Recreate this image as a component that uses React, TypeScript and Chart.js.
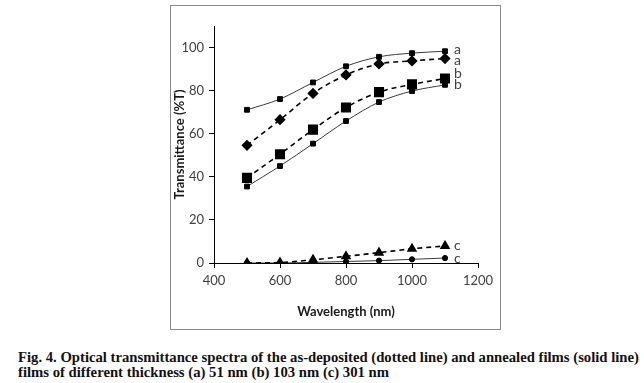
import React, { useEffect, useRef } from "react";
import { Chart, registerables } from "chart.js";

Chart.register(...registerables);

const wavelengths = [500, 600, 700, 800, 900, 1000, 1100];
const annealedA = [71.1, 76.1, 83.8, 91.3, 95.7, 97.4, 98.3];
const depositedA = [54.6, 66.5, 78.7, 87.3, 92.4, 93.8, 94.9];
const depositedB = [39.5, 50.5, 61.9, 72.2, 79.3, 82.9, 85.6];
const annealedB = [35.5, 45.0, 55.4, 65.9, 74.7, 79.8, 82.7];
const depositedC = [0.0, 0.2, 1.5, 3.1, 4.8, 6.6, 7.9];
const annealedC = [0.0, 0.0, 0.3, 0.7, 1.1, 1.7, 2.3];
const curveLabels = ["a", "a", "b", "b", "c", "c"];
const xTicks = [400, 600, 800, 1000, 1200];
const yTicks = [0, 20, 40, 60, 80, 100];

const FONT = "Lato, 'Open Sans', sans-serif";

const endLabels = {
  id: "endLabels",
  afterDatasetsDraw(chart: any) {
    const ctx = chart.ctx;
    ctx.save();
    ctx.font = `14px ${FONT}`;
    ctx.fillStyle = "#404040";
    ctx.textAlign = "left";
    ctx.textBaseline = "middle";
    chart.data.datasets.forEach((ds: any, i: number) => {
      const meta = chart.getDatasetMeta(i);
      const pt = meta.data[meta.data.length - 1];
      if (!pt) return;
      ctx.fillText(ds.endLabel, pt.x + 9, pt.y + (ds.labelDy || 0));
    });
    ctx.restore();
  },
};

const frame = {
  id: "frame",
  afterDraw(chart: any) {
    const ctx = chart.ctx;
    ctx.save();
    ctx.strokeStyle = "#8a8a8a";
    ctx.lineWidth = 1;
    ctx.strokeRect(0.5, 0.5, chart.width - 1, chart.height - 1);
    ctx.restore();
  },
};

export default function App() {
  const ref = useRef<HTMLCanvasElement | null>(null);

  useEffect(() => {
    if (!ref.current) return;
    const toPts = (ys: number[]) => wavelengths.map((x, i) => ({ x, y: ys[i] }));
    const solid = {
      borderColor: "#3a3a3a",
      borderWidth: 1,
      backgroundColor: "#000",
      pointBorderColor: "#000",
      tension: 0.35,
      cubicInterpolationMode: "monotone" as const,
    };
    const dashed = {
      borderColor: "#000",
      borderWidth: 1.6,
      borderDash: [5, 4],
      backgroundColor: "#000",
      pointBorderColor: "#000",
      tension: 0.35,
      cubicInterpolationMode: "monotone" as const,
    };
    const chart = new Chart(ref.current, {
      type: "line",
      data: {
        datasets: [
          { ...solid, label: "a annealed", data: toPts(annealedA), pointStyle: "rect", pointRadius: 3.4, endLabel: curveLabels[0], labelDy: -2 } as any,
          { ...dashed, label: "a as-deposited", data: toPts(depositedA), pointStyle: "rectRot", pointRadius: 4.5, endLabel: curveLabels[1], labelDy: 2 } as any,
          { ...dashed, label: "b as-deposited", data: toPts(depositedB), pointStyle: "rect", pointRadius: 6, endLabel: curveLabels[2], labelDy: -5 } as any,
          { ...solid, label: "b annealed", data: toPts(annealedB), pointStyle: "rect", pointRadius: 3.4, endLabel: curveLabels[3], labelDy: 0 } as any,
          { ...dashed, label: "c as-deposited", data: toPts(depositedC), pointStyle: "triangle", pointRadius: 4.5, endLabel: curveLabels[4], labelDy: 0 } as any,
          { ...solid, label: "c annealed", data: toPts(annealedC), pointStyle: "circle", pointRadius: 2.6, endLabel: curveLabels[5], labelDy: 0 } as any,
        ],
      },
      options: {
        animation: false,
        responsive: false,
        devicePixelRatio: 1,
        layout: { padding: { top: 21, right: 23, left: 1, bottom: 1 } },
        plugins: { legend: { display: false }, tooltip: { enabled: false } },
        scales: {
          x: {
            type: "linear",
            min: 400,
            max: 1200,
            afterBuildTicks: (s: any) => {
              s.ticks = xTicks.map((v) => ({ value: v }));
            },
            afterFit: (s: any) => {
              s.height = 66;
            },
            ticks: {
              font: { family: FONT, size: 13 },
              color: "#404040",
              padding: 5,
              maxRotation: 0,
              callback: (v: any) => String(v),
            },
            grid: { display: true, drawOnChartArea: false, drawTicks: true, tickLength: 5, color: "#000" },
            border: { display: true, color: "#000", width: 1 },
            title: {
              display: true,
              text: "Wavelength (nm)",
              font: { family: FONT, size: 13, weight: "bold" },
              color: "#1a1a1a",
              padding: { top: 0, bottom: 9 },
            },
          },
          y: {
            type: "linear",
            min: 0,
            max: 110,
            afterBuildTicks: (s: any) => {
              s.ticks = yTicks.map((v) => ({ value: v }));
            },
            afterFit: (s: any) => {
              s.width = 43;
            },
            ticks: { font: { family: FONT, size: 13 }, color: "#404040", padding: 5, callback: (v: any) => String(v) },
            grid: { display: true, drawOnChartArea: false, drawTicks: true, tickLength: 5, color: "#000" },
            border: { display: true, color: "#000", width: 1 },
            title: {
              display: true,
              text: "Transmittance (%T)",
              font: { family: FONT, size: 13, weight: "bold" },
              color: "#1a1a1a",
              padding: { top: 1, bottom: 0 },
            },
          },
        },
      },
      plugins: [endLabels, frame],
    } as any);
    return () => chart.destroy();
  }, []);

  return (
    <div style={{ position: "absolute", left: 0, top: 0, width: 644, height: 383, background: "#fff", overflow: "hidden" }}>
      <div style={{ position: "absolute", left: 170, top: 5, width: 331, height: 325 }}>
        <canvas ref={ref} width={331} height={325} style={{ display: "block", width: 331, height: 325 }} />
      </div>
      <div
        style={{
          position: "absolute",
          left: 18,
          top: 350,
          width: 626,
          fontFamily: "'Liberation Serif', 'Times New Roman', serif",
          fontWeight: "bold",
          fontSize: 14.7,
          lineHeight: "14.6px",
          color: "#111",
          whiteSpace: "nowrap",
        }}
      >
        <div>Fig. 4. Optical transmittance spectra of the as-deposited (dotted line) and annealed films (solid line)</div>
        <div>films of different thickness (a) 51 nm (b) 103 nm (c) 301 nm</div>
      </div>
    </div>
  );
}
